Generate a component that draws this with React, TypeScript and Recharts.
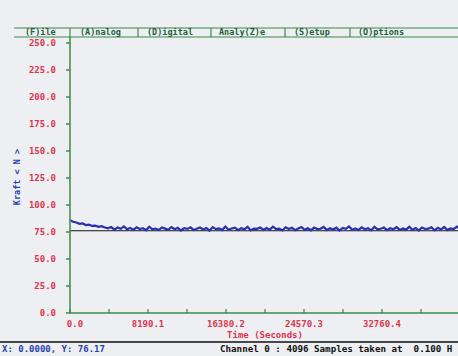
import React from 'react';
import { Line, LineChart, ReferenceLine, XAxis, YAxis } from 'recharts';

// force channel 0, sampled at 0.1 Hz (one point every 10 s, thinned here)
const forceValues: number[] = [
  86.0, 84.5, 83.8, 82.6, 82.9, 81.4, 81.8, 80.6, 80.9, 79.8, 80.4, 79.2,
  78.4, 79.6, 77.2, 79.1, 78.0, 80.2, 77.5, 78.8, 76.9, 79.4, 77.8, 78.6,
  76.6, 79.9, 77.4, 78.2, 76.8, 79.2, 78.1, 77.0, 79.6, 77.6, 78.9, 76.4,
  78.5, 77.9, 79.3, 76.9, 78.0, 79.1, 77.3, 78.7, 76.2, 79.5, 77.7, 78.4,
  76.8, 80.1, 77.1, 78.3, 79.0, 76.7, 78.6, 77.5, 79.8, 76.5, 78.2, 77.9,
  79.2, 76.9, 78.7, 77.2, 80.0, 77.6, 78.1, 76.4, 79.4, 77.8, 78.9, 76.7,
  78.3, 79.6, 77.0, 78.5, 76.6, 79.1, 77.7, 78.0, 79.7, 76.8, 78.4, 77.3,
  79.0, 76.3, 78.8, 77.9, 80.2, 77.1, 78.2, 76.9, 79.3, 77.5, 78.6, 76.5,
  79.8, 77.4, 78.0, 79.1, 76.7, 78.5, 77.6, 79.5, 76.9, 78.3, 77.2, 79.9,
  77.0, 78.7, 76.4, 79.2, 77.8, 78.1, 79.4, 76.6, 78.9, 77.3, 79.6, 76.8,
  78.4, 77.7, 80.0, 77.5,
];
const lastTime = 40950;

const yTicks = [0, 25, 50, 75, 100, 125, 150, 175, 200, 225, 250];
const xTicks = [0, 4095.05, 8190.1, 12285.15, 16380.2, 20475.25, 24570.3, 28665.35, 32760.4, 36855.45];
const xLabels = ['0.0', '', '8190.1', '', '16380.2', '', '24570.3', '', '32760.4', ''];
const cursorY = 76.17;

const menuItems = ['(F)ile', '(A)nalog', '(D)igital', 'Analy(Z)e', '(S)etup', '(O)ptions'];
const menuDividers = [70, 138, 211, 285, 350];
const menuTextX = [25, 80, 147, 219, 294, 358];

const data = forceValues.map((v, i) => ({ t: (i * lastTime) / (forceValues.length - 1), v }));

const GREEN = '#3b8a4c';
const RED = '#e0334a';
const FONT = '"DejaVu Sans Mono", monospace';

const XTick = (props: any) => {
  const { x, y, index } = props;
  return (
    <g>
      <line x1={x} y1={y} x2={x} y2={y - 4} stroke={GREEN} strokeWidth={1.2} />
      <text x={x + (index === 0 ? 5 : 0)} y={y + 14} textAnchor="middle" fill={RED} fontSize={9} fontWeight="bold" fontFamily={FONT}>
        {xLabels[index]}
      </text>
    </g>
  );
};

export default function App() {
  return (
    <div style={{ position: 'absolute', left: 0, top: 0, width: 458, height: 356, overflow: 'hidden', background: '#edeff3' }}>
      <LineChart width={458} height={356} data={data} margin={{ top: 43, right: 0, bottom: 0, left: 0 }}>
        <XAxis
          type="number"
          dataKey="t"
          domain={[0, 40740]}
          allowDataOverflow
          ticks={xTicks}
          interval={0}
          height={43}
          stroke={GREEN}
          strokeWidth={1.5}
          tickSize={0}
          tickMargin={0}
          tick={<XTick />}
        />
        <YAxis
          type="number"
          domain={[0, 250]}
          ticks={yTicks}
          interval={0}
          width={70}
          stroke={GREEN}
          strokeWidth={1.5}
          tickSize={4}
          tickMargin={10}
          tickFormatter={(v: number) => v.toFixed(1)}
          tick={{ fill: RED, fontSize: 9, fontWeight: 'bold', fontFamily: FONT }}
        />
        <ReferenceLine y={cursorY} stroke="#151515" strokeWidth={1.2} />
        <Line type="linear" dataKey="v" stroke="#2a2fb2" strokeWidth={2.2} dot={false} isAnimationActive={false} />
      </LineChart>
      <svg width={458} height={356} style={{ position: 'absolute', left: 0, top: 0, pointerEvents: 'none' }}>
        <line x1={14} y1={28} x2={458} y2={28} stroke={GREEN} strokeWidth={1.2} />
        <line x1={14} y1={37} x2={458} y2={37} stroke={GREEN} strokeWidth={1.2} />
        {menuDividers.map((x) => (
          <line key={x} x1={x} y1={28} x2={x} y2={37} stroke={GREEN} strokeWidth={1.2} />
        ))}
        <line x1={70} y1={37} x2={70} y2={44} stroke={GREEN} strokeWidth={1.5} />
        {menuItems.map((m, i) => (
          <text key={m} x={menuTextX[i]} y={35} fill="#24603a" fontSize={8.5} fontWeight="bold" fontFamily={FONT}>
            {m}
          </text>
        ))}
        <text
          x={20}
          y={177}
          transform="rotate(-90 20 177)"
          textAnchor="middle"
          fill="#2540b0"
          fontSize={8.5}
          fontWeight="bold"
          fontFamily={FONT}
        >
          Kraft &lt; N &gt;
        </text>
        <text x={265} y={338} textAnchor="middle" fill={RED} fontSize={9} fontWeight="bold" fontFamily={FONT}>
          Time (Seconds)
        </text>
        <line x1={0} y1={342} x2={458} y2={342} stroke="#111" strokeWidth={1.5} />
        <text x={2} y={352} fill="#2540b0" fontSize={9} fontWeight="bold" fontFamily={FONT}>
          X: 0.0000, Y: 76.17
        </text>
        <text x={220} y={352} fill="#111" fontSize={9.2} fontWeight="bold" fontFamily={FONT} style={{ whiteSpace: 'pre' }}>
          Channel 0 : 4096 Samples taken at  0.100 H
        </text>
      </svg>
    </div>
  );
}
